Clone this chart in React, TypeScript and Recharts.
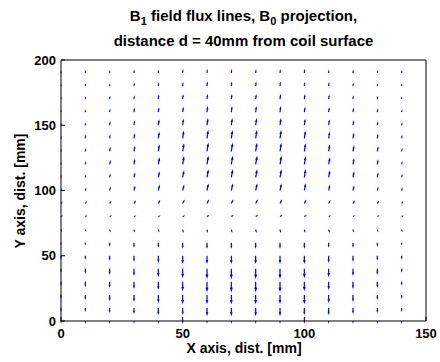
import React from 'react';
import { ScatterChart, Scatter, XAxis, YAxis } from 'recharts';

// Grid of quiver positions (mm)
const xPositions = [0, 10, 20, 30, 40, 50, 60, 70, 80, 90, 100, 110, 120, 130, 140];
const yPositions = [0, 10, 20, 30, 40, 50, 60, 70, 80, 90, 100, 110, 120, 130, 140, 150, 160, 170, 180, 190];

// Vertical field component (rows follow yPositions, columns follow xPositions)
const vComp: number[][] = [
  [-0.8, -0.8, -0.8, -0.8, -0.8, -0.8, -0.8, -0.8, -0.8, -0.8, -0.8, -0.8, -0.8, -0.8, -0.8],
  [-2, -2, -3, -4, -5, -5, -6, -6, -6, -6, -5, -5, -4, -3, -2],
  [-2, -3, -4, -5, -6, -7, -7, -7, -7, -7, -7, -6, -5, -3, -2],
  [-2, -3, -4, -5, -6, -7, -8, -8, -8, -8, -7, -6, -5, -4, -2],
  [-2, -3, -4, -5, -6, -7, -8, -8, -8, -8, -7, -6, -5, -4, -2],
  [-2, -2, -3, -4, -5, -6, -6, -6, -6, -6, -6, -5, -4, -3, -2],
  [-1, -1, -2, -3, -3, -4, -4, -4, -4, -4, -4, -3, -3, -2, -1],
  [-0.5, -0.5, -1, -1, -1, -1.5, -1.5, -1.5, -1.5, -1.5, -1.5, -1.5, -1, -1, -0.5],
  [0.2, 0.2, 0.3, 0.3, 0.4, 0.4, 0.5, 0.5, 0.5, 0.5, 0.5, 0.4, 0.4, 0.3, 0.2],
  [0.5, 0.8, 1.2, 1.5, 2, 2.3, 2.5, 2.5, 2.5, 2.5, 2.3, 2, 1.6, 1.2, 0.8],
  [0.5, 1, 2, 3, 4, 4, 5, 5, 5, 5, 5, 4, 3, 2, 1],
  [0.5, 1, 2, 3, 4, 5, 6, 6, 6, 6, 6, 5, 4, 3, 1.5],
  [0.5, 1.5, 2.5, 3.5, 5, 6, 6.5, 6.5, 6.5, 6.5, 6, 5, 4, 3, 1.5],
  [0.5, 1.5, 2.5, 3.5, 5, 6, 6.5, 6.5, 6.5, 6.5, 6, 5, 4, 3, 1.5],
  [0.5, 1.5, 2, 3, 4.5, 5.5, 6, 6, 6, 6, 5.5, 4.5, 3.5, 2.5, 1.5],
  [0.5, 1, 2, 3, 4, 4.5, 5, 5, 5, 5, 4.5, 4, 3, 2, 1],
  [0.5, 1, 1.5, 2.5, 3, 3.5, 4, 4, 4, 4, 3.5, 3, 2.5, 2, 1],
  [0.5, 1, 1.5, 2, 2.5, 3, 3, 3, 3, 3, 3, 2.5, 2, 1.5, 1],
  [0.5, 1, 1, 1.5, 2, 2, 2.5, 2.5, 2.5, 2.5, 2, 2, 1.5, 1, 1],
  [0.5, 1, 1, 1.5, 1.5, 2, 2, 2, 2, 2, 2, 1.5, 1.5, 1, 1],
];

// Horizontal field component
const uComp: number[][] = [
  [0, 0, 0, 0, 0, 0, 0, 0, 0, 0, 0, 0, 0, 0, 0],
  [0, 0, 0, 0, 0, 0, 0, 0, 0, 0, 0, 0, 0, 0, 0],
  [0, 0, 0, 0, 0, 0, 0, 0, 0, 0, 0, 0, 0, 0, 0],
  [0, 0, 0, 0, 0, 0, 0, 0, 0, 0, 0, 0, 0, 0, 0],
  [0, 0, 0, 0, 0, 0, 0, 0, 0, 0, 0, 0, 0, 0, 0],
  [0, 0, 0, 0, 0, 0, 0, 0, 0, 0, 0, 0, 0, 0, 0],
  [0, 0, 0, 0, 0, 0, 0, 0, 0, 0, 0, 0, 0, 0, 0],
  [0.2, 0.2, 0.3, 0.3, 0.3, 0.4, 0.4, 0.4, 0.4, 0.4, 0.4, 0.4, 0.3, 0.3, 0.2],
  [0.4, 0.4, 0.5, 0.6, 0.7, 0.8, 0.8, 0.8, 0.8, 0.8, 0.8, 0.7, 0.6, 0.5, 0.4],
  [0.4, 0.5, 0.7, 0.9, 1, 1.1, 1.2, 1.2, 1.2, 1.2, 1.1, 1, 0.9, 0.7, 0.5],
  [0.2, 0.3, 0.5, 0.7, 0.9, 1, 1.1, 1.1, 1.1, 1.1, 1, 0.9, 0.7, 0.5, 0.3],
  [0.1, 0.2, 0.4, 0.6, 0.8, 1, 1.1, 1.1, 1.1, 1.1, 1, 0.9, 0.7, 0.5, 0.3],
  [0.1, 0.3, 0.5, 0.6, 0.9, 1, 1.1, 1.1, 1.1, 1.1, 1, 0.9, 0.7, 0.5, 0.3],
  [0.1, 0.3, 0.4, 0.6, 0.8, 1, 1, 1, 1, 1, 1, 0.8, 0.7, 0.5, 0.3],
  [0.1, 0.2, 0.3, 0.5, 0.7, 0.8, 0.9, 0.9, 0.9, 0.9, 0.8, 0.7, 0.6, 0.4, 0.2],
  [0.1, 0.2, 0.3, 0.4, 0.6, 0.6, 0.7, 0.7, 0.7, 0.7, 0.6, 0.6, 0.5, 0.3, 0.2],
  [0.1, 0.1, 0.2, 0.3, 0.4, 0.5, 0.5, 0.5, 0.5, 0.5, 0.5, 0.4, 0.4, 0.3, 0.2],
  [0.1, 0.1, 0.2, 0.2, 0.3, 0.3, 0.4, 0.4, 0.4, 0.4, 0.4, 0.3, 0.3, 0.2, 0.1],
  [0.1, 0.1, 0.1, 0.2, 0.2, 0.2, 0.3, 0.3, 0.3, 0.3, 0.2, 0.2, 0.2, 0.1, 0.1],
  [0.1, 0.1, 0.1, 0.1, 0.1, 0.2, 0.2, 0.2, 0.2, 0.2, 0.2, 0.1, 0.1, 0.1, 0.1],
];

const xTicks = [0, 50, 100, 150];
const yTicks = [0, 50, 100, 150, 200];

const titleLine2 = 'distance d = 40mm from coil surface';
const xLabel = 'X axis, dist. [mm]';
const yLabel = 'Y axis, dist. [mm]';

const data = yPositions.flatMap((y, r) =>
  xPositions.map((x, c) => ({ x, y, u: uComp[r][c], v: vComp[r][c] }))
);

const ARROW_SCALE = 1.05;
const FONT = '"Liberation Sans", Arial, Helvetica, sans-serif';
const W = 440;
const H = 362;

function Arrow(props: any) {
  const { cx, cy, payload } = props;
  if (cx == null || cy == null || !payload) return null;
  const u = payload.u * ARROW_SCALE;
  const v = payload.v * ARROW_SCALE;
  const tx = cx + u;
  const ty = cy - v;
  const a = 0.33;
  const b = 0.33;
  const h1x = tx - a * (u + b * v);
  const h1y = ty + a * (v - b * u);
  const h2x = tx - a * (u - b * v);
  const h2y = ty + a * (v + b * u);
  return (
    <path
      d={`M${cx},${cy}L${tx},${ty}M${h1x},${h1y}L${tx},${ty}L${h2x},${h2y}`}
      stroke="#0000ff"
      strokeWidth={1.2}
      fill="none"
    />
  );
}

function Nothing() {
  return null;
}

const tickStyle = { fill: '#000', fontSize: 13, fontWeight: 700, fontFamily: FONT };

export default function App() {
  return (
    <div
      style={{
        position: 'absolute',
        left: 0,
        top: 0,
        width: W,
        height: H,
        overflow: 'hidden',
        background: '#fff',
      }}
    >
      <ScatterChart
        width={W}
        height={H}
        margin={{ top: 59, right: 13, bottom: 11, left: 0 }}
      >
        <XAxis
          xAxisId="bottom"
          dataKey="x"
          type="number"
          domain={[0, 150]}
          ticks={xTicks}
          height={30}
          orientation="bottom"
          tickSize={-4}
          tickMargin={12}
          tick={tickStyle}
          axisLine={{ stroke: '#000' }}
          tickLine={{ stroke: '#000' }}
        />
        <XAxis
          xAxisId="top"
          dataKey="x"
          type="number"
          domain={[0, 150]}
          ticks={xTicks}
          height={1}
          orientation="top"
          tickSize={-4}
          tick={false}
          axisLine={{ stroke: '#000' }}
          tickLine={{ stroke: '#000' }}
        />
        <YAxis
          yAxisId="left"
          dataKey="y"
          type="number"
          domain={[0, 200]}
          ticks={yTicks}
          width={61}
          orientation="left"
          tickSize={-4}
          tickMargin={9}
          tick={tickStyle}
          axisLine={{ stroke: '#000' }}
          tickLine={{ stroke: '#000' }}
        />
        <YAxis
          yAxisId="right"
          dataKey="y"
          type="number"
          domain={[0, 200]}
          ticks={yTicks}
          width={1}
          orientation="right"
          tickSize={-4}
          tick={false}
          axisLine={{ stroke: '#000' }}
          tickLine={{ stroke: '#000' }}
        />
        <Scatter
          xAxisId="top"
          yAxisId="right"
          data={data}
          dataKey="y"
          shape={<Nothing />}
          isAnimationActive={false}
        />
        <Scatter
          xAxisId="bottom"
          yAxisId="left"
          data={data}
          dataKey="y"
          shape={<Arrow />}
          isAnimationActive={false}
        />
      </ScatterChart>
      <svg
        width={W}
        height={H}
        style={{ position: 'absolute', left: 0, top: 0, pointerEvents: 'none' }}
      >
        <text x={243.5} y={21} textAnchor="middle" fontFamily={FONT} fontWeight={700} fontSize={15} fill="#000">
          B<tspan fontSize={11} dy={4}>1</tspan>
          <tspan dy={-4}> field flux lines, B</tspan>
          <tspan fontSize={11} dy={4}>0</tspan>
          <tspan dy={-4}> projection,</tspan>
        </text>
        <text x={243.5} y={46} textAnchor="middle" fontFamily={FONT} fontWeight={700} fontSize={15} fill="#000">
          {titleLine2}
        </text>
        <text x={244} y={353} textAnchor="middle" fontFamily={FONT} fontWeight={700} fontSize={14} fill="#000">
          {xLabel}
        </text>
        <text
          x={20}
          y={191}
          textAnchor="middle"
          dominantBaseline="central"
          transform="rotate(-90 20 191)"
          fontFamily={FONT}
          fontWeight={700}
          fontSize={14}
          fill="#000"
        >
          {yLabel}
        </text>
      </svg>
    </div>
  );
}
